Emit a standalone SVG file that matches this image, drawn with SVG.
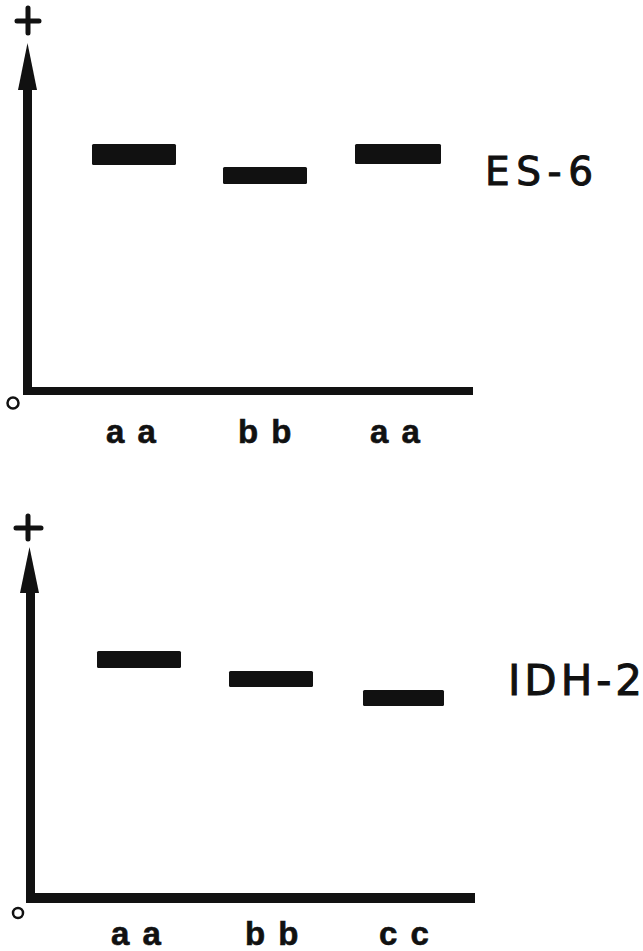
<svg xmlns="http://www.w3.org/2000/svg" width="643" height="951" viewBox="0 0 643 951">
<style>
.ax{fill:#111}
.band{fill:#111}
.pl{stroke:#111;stroke-width:5;stroke-linecap:round;fill:none}
.zero{fill:none;stroke:#111;stroke-width:2.5}
.lab{font-family:"Liberation Sans",Arial,sans-serif;font-weight:bold;font-size:33px;fill:#111;stroke:#111;stroke-width:0.6;word-spacing:4px}
.name{font-family:"DejaVu Sans","Liberation Sans",sans-serif;fill:#111;stroke:#111;stroke-width:1}
</style>
<rect width="643" height="951" fill="#fff"/>
<g id="chart-es6">
  <g id="axes-top">
    <path class="pl" d="M17,21 H39 M28,8 V33"/>
    <polygon class="ax" points="27.5,43 37,90 18,90"/>
    <rect class="ax" x="23" y="88" width="9" height="307"/>
    <rect class="ax" x="23" y="387" width="450" height="8"/>
    <circle class="zero" cx="13" cy="403" r="5.5"/>
  </g>
  <g id="es6-bands">
    <rect class="band" x="92" y="144" width="84" height="21" rx="1.5"/>
    <rect class="band" x="223" y="167" width="84" height="17" rx="1.5"/>
    <rect class="band" x="355" y="144" width="86" height="20" rx="1.5"/>
  </g>
  <text class="name" x="485" y="185" font-size="39" textLength="108" lengthAdjust="spacing">ES-6</text>
  <g id="es6-labels">
    <text class="lab" x="106" y="443">a a</text>
    <text class="lab" x="238" y="443">b b</text>
    <text class="lab" x="370" y="443">a a</text>
  </g>
</g>
<g id="chart-idh2">
  <g id="axes-bottom">
    <path class="pl" d="M16,528 H41 M28,516 V539"/>
    <polygon class="ax" points="29.5,547 39,593 20,593"/>
    <rect class="ax" x="26" y="591" width="9" height="312"/>
    <rect class="ax" x="26" y="893" width="449" height="10"/>
    <circle class="zero" cx="18" cy="913" r="5"/>
  </g>
  <g id="idh2-bands">
    <rect class="band" x="97" y="651" width="84" height="17" rx="1.5"/>
    <rect class="band" x="229" y="671" width="84" height="16" rx="1.5"/>
    <rect class="band" x="363" y="690" width="81" height="16" rx="1.5"/>
  </g>
  <text class="name" x="508" y="695" font-size="42" textLength="134" lengthAdjust="spacing">IDH-2</text>
  <g id="idh2-labels">
    <text class="lab" x="111" y="945">a a</text>
    <text class="lab" x="245" y="945">b b</text>
    <text class="lab" x="379" y="945">c c</text>
  </g>
</g>
</svg>
